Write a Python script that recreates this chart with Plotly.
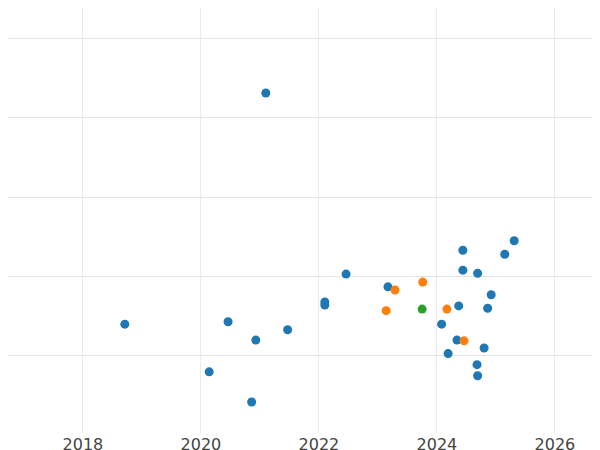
import plotly.graph_objects as go

blue_x = [2021.10, 2018.71, 2020.46, 2020.93, 2021.47, 2020.14, 2020.86, 2022.10, 2022.10, 2022.46,
          2023.17, 2024.44, 2024.44, 2024.69, 2025.15, 2025.31, 2024.92, 2024.37, 2024.86, 2024.08,
          2024.34, 2024.80, 2024.19, 2024.68, 2024.69]
blue_y = [3.31, 0.40, 0.43, 0.20, 0.33, -0.20, -0.58, 0.68, 0.64, 1.03,
          0.87, 1.33, 1.08, 1.04, 1.28, 1.45, 0.77, 0.63, 0.60, 0.40,
          0.20, 0.10, 0.03, -0.11, -0.25]
orange_x = [2023.29, 2023.76, 2023.14, 2024.17, 2024.46]
orange_y = [0.83, 0.93, 0.57, 0.59, 0.19]
green_x = [2023.75]
green_y = [0.59]
tick_vals = [2018, 2020, 2022, 2024, 2026]
tick_text = ["2018", "2020", "2022", "2024", "2026"]

fig = go.Figure()
for xs, ys, c in [(blue_x, blue_y, "#1f77b4"), (orange_x, orange_y, "#ff7f0e"), (green_x, green_y, "#2ca02c")]:
    fig.add_trace(go.Scatter(x=xs, y=ys, mode="markers", marker=dict(color=c, size=9), showlegend=False,
                             cliponaxis=False))

fig.update_layout(
    width=600, height=450, margin=dict(l=0, r=0, t=0, b=25, autoexpand=False),
    plot_bgcolor="white", paper_bgcolor="white",
    font=dict(family="DejaVu Sans", size=16, color="#444"),
)
fig.update_xaxes(range=[2016.73, 2026.9], tickvals=tick_vals, ticktext=tick_text, automargin=False,
                 showgrid=True, gridcolor="#ebebeb", zeroline=False, showline=False)
fig.update_yaxes(range=[-0.97, 4.38], dtick=1, showticklabels=False, automargin=False,
                 showgrid=True, gridcolor="#e5e5e5", zeroline=False, showline=False)
fig.write_html("out.html")
